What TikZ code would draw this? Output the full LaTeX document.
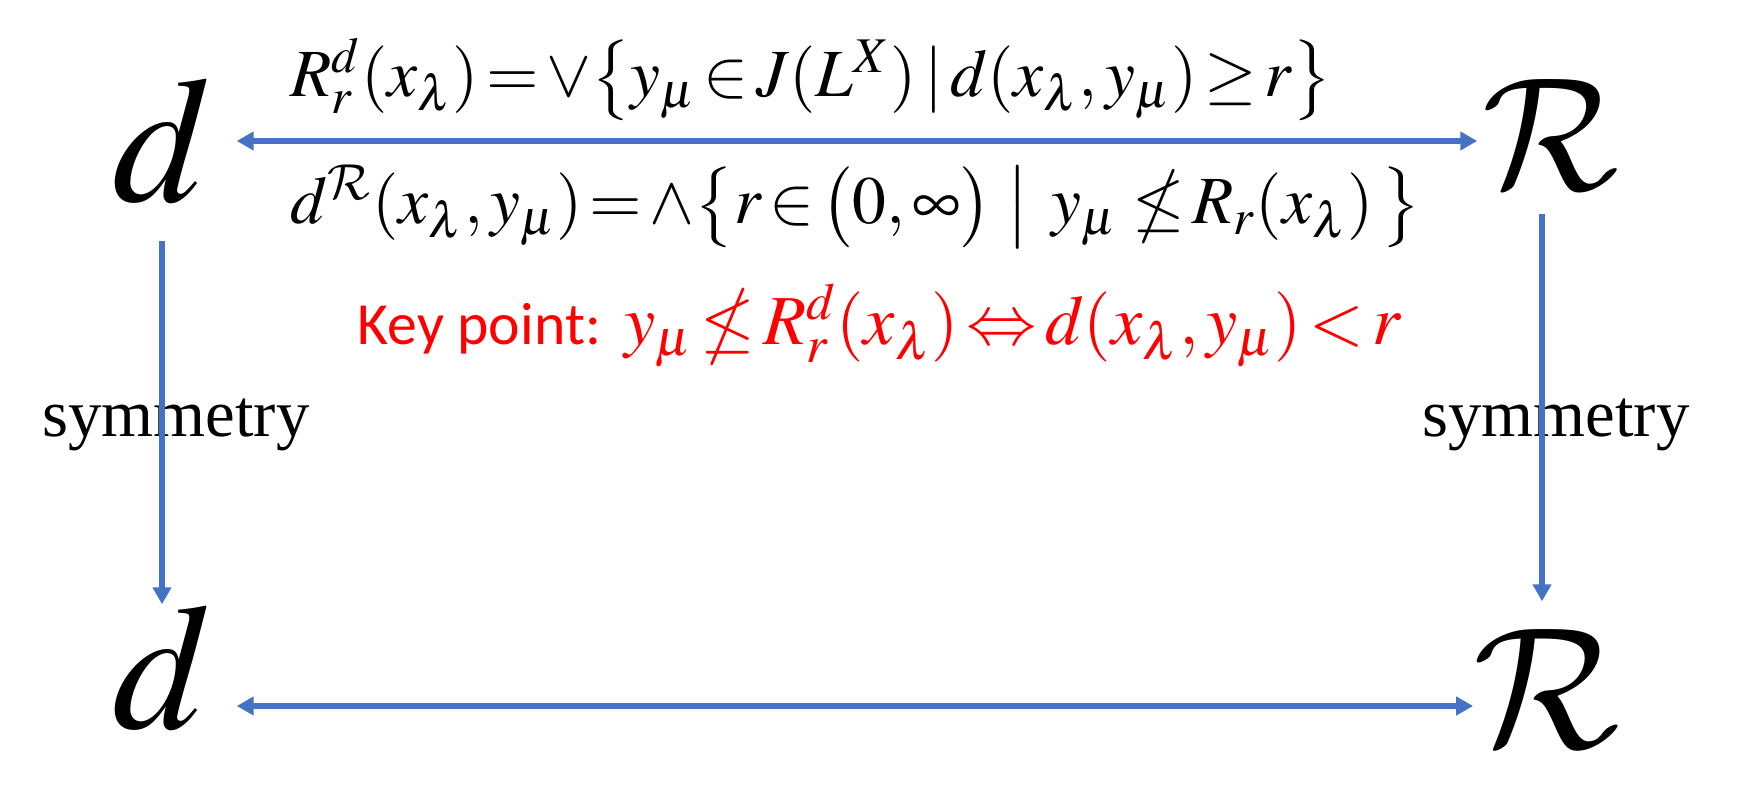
\documentclass[tikz,border=0pt]{standalone}
\usepackage{amsmath,amssymb}
\usepackage{mathptmx}
\usepackage[no-math]{fontspec}
\setmainfont{Liberation Serif}
\newfontfamily\keyfont{Carlito}
\DeclareMathAlphabet{\calR}{OMS}{cmsy}{m}{n}
\newcommand\tightmath{\thickmuskip=2mu\relax\medmuskip=1mu\relax}
\newcommand\bigcalR[1]{\resizebox{!}{#1}{$\calR{R}$}}
\usetikzlibrary{arrows.meta,positioning}
\definecolor{arrowblue}{HTML}{4472C4}
\definecolor{keyred}{HTML}{FF0000}
\tikzset{every node/.style={inner sep=0pt},
conn/.style={draw=arrowblue,line width=1.6pt},
bigd/.style={font=\fontsize{51}{56}\selectfont},
formula/.style={anchor=base west,font=\fontsize{19.2}{23}\selectfont},
keytext/.style={anchor=base west,font=\fontsize{20}{24}\selectfont,text=keyred},
sidetext/.style={font=\fontsize{19}{22}\selectfont}
}

\begin{document}
\begin{tikzpicture}[> = {Triangle[length=0.17cm,width=0.18cm]}]
       \useasboundingbox (0,0) rectangle (17.52,-7.98);
       \node[bigd, minimum width=1.48cm, minimum height=1.98cm] (d_0) at (1.62,-1.41) {$d$};
       \node[minimum width=1.46cm, minimum height=1.56cm] (R_0) at (15.51,-1.35) {\bigcalR{1.10cm}};
       \node[bigd, minimum width=1.48cm, minimum height=1.26cm] (d_1) at (1.62,-6.68) {$d$};
       \node[minimum width=1.38cm, minimum height=1.72cm] (R_1) at (15.47,-6.88) {\bigcalR{1.18cm}};

       \node[formula] (f_1) at (2.90,-0.97) {$\tightmath R_r^d(x_\lambda)=\vee\big\{y_\mu\in J(L^X)\,|\,d(x_\lambda,y_\mu)\geq r\big\}$};
       \node[formula] (f_2) at (2.90,-2.24) {$\tightmath d^{\calR{R}}(x_\lambda,y_\mu)=\wedge\big\{r\in\big(0,\infty\big)\;\;\big|\;\;\;y_\mu\;\nleq R_r(x_\lambda)\,\big\}$};
       \node[keytext] (key) at (3.57,-3.45) {{\keyfont\fontsize{17}{20}\selectfont Key point:} $\tightmath y_\mu\nleq R_r^d(x_\lambda)\Leftrightarrow d(x_\lambda,y_\mu)<r$};
       \node[sidetext] (sym_l) at (1.76,-4.25) {symmetry};
       \node[sidetext] (sym_r) at (15.56,-4.25) {symmetry};

       \draw[conn,<->] (d_0.east) -- (d_0.east -| R_0.west);
       \draw[conn,<->] ([yshift=-0.38cm]d_1.east) -- ([yshift=-0.38cm]d_1.east -| R_1.west);
       \draw[conn,->] (d_0.south) -- (d_1.north);
       \draw[conn,->] ([xshift=-0.09cm]R_0.south) -- ([xshift=-0.09cm]R_0.south |- R_1.north);
\end{tikzpicture}
\end{document}
